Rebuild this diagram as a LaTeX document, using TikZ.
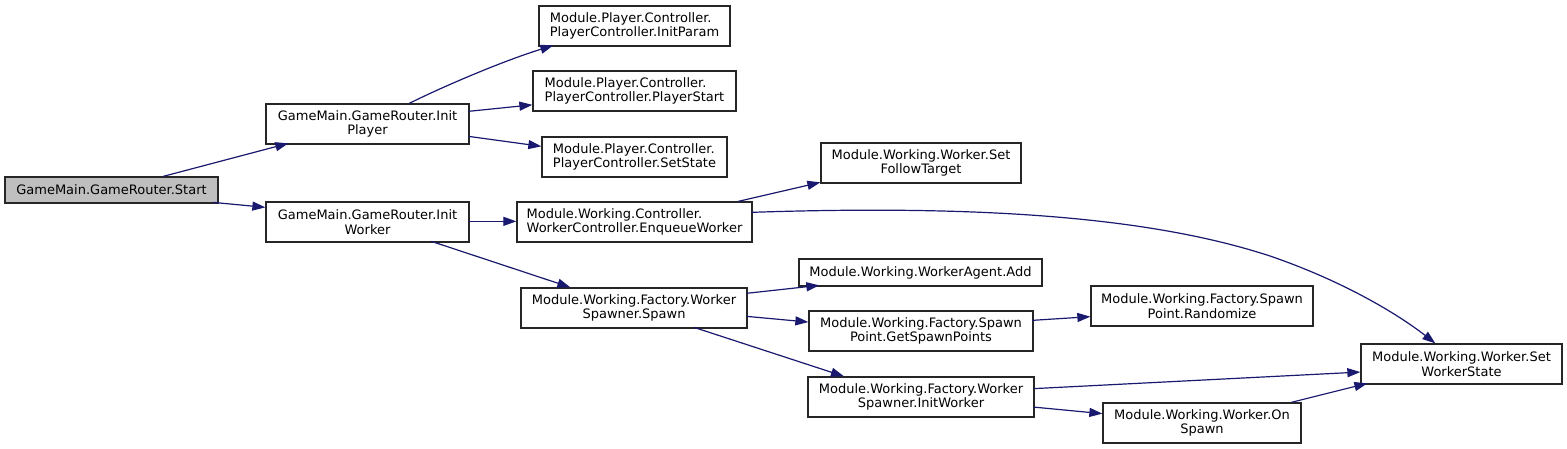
\documentclass[tikz,border=0pt]{standalone}
\usepackage{fontspec}
\newfontfamily\dejavu{DejaVu Sans}
\usetikzlibrary{arrows.meta,calc}
\definecolor{edgec}{HTML}{191970}
\definecolor{rootfill}{HTML}{BFBFBF}
\definecolor{boxc}{HTML}{262626}
\tikzset{
  box/.style={draw=boxc, line width=1.3pt, fill=white, inner sep=0pt, align=center,
    font=\dejavu\fontsize{13}{14.6}\selectfont},
  lbox/.style={box, align=left},
  edge/.style={draw=edgec, line width=1.2pt, -{Triangle[length=13pt,width=9pt]}},
}
\begin{document}
\begin{tikzpicture}[x=1pt,y=-1pt]
\fill[white] (0,0) rectangle (1567,449);
\useasboundingbox (0,0) rectangle (1567,449);
% nodes
\node[box, fill=rootfill, minimum width=213, minimum height=26] (start) at (111.5,190) {GameMain.GameRouter.Start};
\node[box, minimum width=203, minimum height=40] (initp) at (367.5,124) {GameMain.GameRouter.Init\\Player};
\node[box, minimum width=203, minimum height=40] (initw) at (367.5,222) {GameMain.GameRouter.Init\\Worker};
\node[lbox, minimum width=191, minimum height=40] (initparam) at (634.5,26) {Module.Player.Controller.\\PlayerController.InitParam};
\node[lbox, minimum width=203, minimum height=40] (pstart) at (634.5,91) {Module.Player.Controller.\\PlayerController.PlayerStart};
\node[lbox, minimum width=185, minimum height=40] (setstate) at (634.5,157) {Module.Player.Controller.\\PlayerController.SetState};
\node[lbox, minimum width=235, minimum height=40] (enq) at (634.5,222) {Module.Working.Controller.\\WorkerController.EnqueueWorker};
\node[box, minimum width=226, minimum height=40] (spawn) at (634,308) {Module.Working.Factory.Worker\\Spawner.Spawn};
\node[box, minimum width=200, minimum height=40] (sft) at (921,163) {Module.Working.Worker.Set\\FollowTarget};
\node[box, minimum width=243, minimum height=27] (add) at (920.5,272.5) {Module.Working.WorkerAgent.Add};
\node[box, minimum width=224, minimum height=40] (gsp) at (921,331) {Module.Working.Factory.Spawn\\Point.GetSpawnPoints};
\node[box, minimum width=226, minimum height=40] (iw2) at (921,397) {Module.Working.Factory.Worker\\Spawner.InitWorker};
\node[box, minimum width=222, minimum height=40] (rand) at (1202,306) {Module.Working.Factory.Spawn\\Point.Randomize};
\node[box, minimum width=198, minimum height=40] (onspawn) at (1202,423) {Module.Working.Worker.On\\Spawn};
\node[box, minimum width=201, minimum height=40] (sws) at (1461.5,364) {Module.Working.Worker.Set\\WorkerState};
% edges
\draw[edge] ($(start.north west)+(159,0)$) -- ($(initp.north west)+(23,40)$);
\draw[edge] ($(start.north west)+(208.5,26)$) -- ($(initw.north west)+(0,6)$);
\draw[edge] ($(initp.north west)+(144,0)$) .. controls (440,88) and (500,62) .. ($(initparam.north west)+(15,40)$);
\draw[edge] ($(initp.north west)+(203,8)$) -- ($(pstart.north west)+(0,34.5)$);
\draw[edge] ($(initp.north west)+(203,33)$) -- ($(setstate.north west)+(0,10)$);
\draw[edge] ($(initw.north west)+(203,20)$) -- ($(enq.north west)+(0,20)$);
\draw[edge] ($(initw.north west)+(166,40)$) -- ($(spawn.north west)+(50,0)$);
\draw[edge] ($(enq.north west)+(222,0)$) -- ($(sft.north west)+(0,40)$);
\draw[edge] ($(enq.north west)+(235,11)$) .. controls (1000,204) and (1160,220) .. (1270,256)
  .. controls (1340,280) and (1395,312) .. ($(sws.north west)+(75,0)$);
\draw[edge] ($(spawn.north west)+(226,6)$) -- ($(add.north west)+(21,27)$);
\draw[edge] ($(spawn.north west)+(226,29)$) -- ($(gsp.north west)+(0,11.7)$);
\draw[edge] ($(spawn.north west)+(173.6,40)$) -- ($(iw2.north west)+(36.6,0)$);
\draw[edge] ($(gsp.north west)+(224,10)$) -- ($(rand.north west)+(0,31.3)$);
\draw[edge] ($(iw2.north west)+(226,12.3)$) -- ($(sws.north west)+(0,28.7)$);
\draw[edge] ($(iw2.north west)+(226,30.7)$) -- ($(onspawn.north west)+(0,11.3)$);
\draw[edge] ($(onspawn.north west)+(189,0)$) -- ($(sws.north west)+(7,40)$);
\end{tikzpicture}
\end{document}
